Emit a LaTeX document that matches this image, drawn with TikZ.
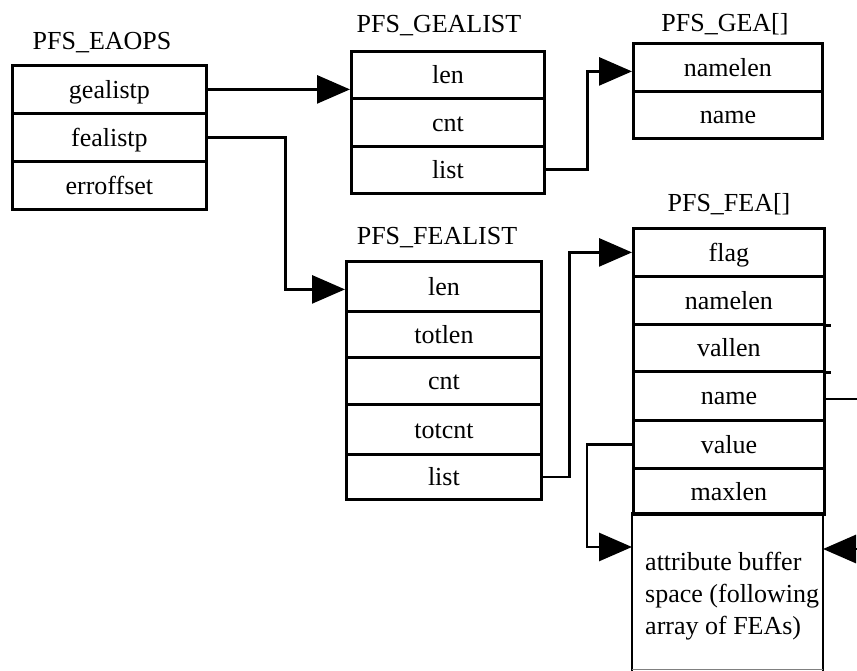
\documentclass[tikz,border=0pt]{standalone}
\usepackage{fontspec}
\setmainfont{Liberation Serif}
\usetikzlibrary{arrows.meta}

\newcommand{\fieldfont}{\fontsize{26}{32}\selectfont}

\tikzset{
  field/.style={draw, line width=2.8pt, rectangle, inner sep=0pt,
    anchor=north west, text height=18pt, text depth=0pt, font=\fieldfont},
  title/.style={anchor=base, inner sep=0pt, font=\fieldfont},
  edge/.style={line width=2.8pt},
  conn/.style={edge, -{Triangle[length=33pt,width=28pt]}},
}

\begin{document}
\begin{tikzpicture}[x=1pt, y=-1pt]
  \useasboundingbox (0,0) rectangle (857,671);

  % PFS_EAOPS
  \node[title] (eaT) at (102,50) {PFS\_EAOPS};
  \node[field, minimum width=194pt, minimum height=48pt] (ea1) at (11,64)  {gealistp};
  \node[field, minimum width=194pt, minimum height=48pt] (ea2) at (11,112) {fealistp};
  \node[field, minimum width=194pt, minimum height=48pt] (ea3) at (11,160) {erroffset};

  % PFS_GEALIST
  \node[title] (glT) at (439,33) {PFS\_GEALIST};
  \node[field, minimum width=193pt, minimum height=47pt] (gl1) at (350,50)  {len};
  \node[field, minimum width=193pt, minimum height=48pt] (gl2) at (350,97)  {cnt};
  \node[field, minimum width=193pt, minimum height=47pt] (gl3) at (350,145) {list};

  % PFS_GEA[]
  \node[title] (geaT) at (725,32) {PFS\_GEA[]};
  \node[field, minimum width=189pt, minimum height=48pt] (gea1) at (632,42) {namelen};
  \node[field, minimum width=189pt, minimum height=47pt] (gea2) at (632,90) {name};

  % PFS_FEALIST
  \node[title] (flT) at (437,245) {PFS\_FEALIST};
  \node[field, minimum width=195pt, minimum height=50pt] (fl1) at (345,260) {len};
  \node[field, minimum width=195pt, minimum height=46pt] (fl2) at (345,310) {totlen};
  \node[field, minimum width=195pt, minimum height=47pt] (fl3) at (345,356) {cnt};
  \node[field, minimum width=195pt, minimum height=50pt] (fl4) at (345,403) {totcnt};
  \node[field, minimum width=195pt, minimum height=45pt] (fl5) at (345,453) {list};

  % PFS_FEA[]
  \node[title] (feaT) at (729,212) {PFS\_FEA[]};
  \node[field, minimum width=191pt, minimum height=48pt] (fea1) at (632,227) {flag};
  \node[field, minimum width=191pt, minimum height=48pt] (fea2) at (632,275) {namelen};
  \node[field, minimum width=191pt, minimum height=47pt] (fea3) at (632,323) {vallen};
  \node[field, minimum width=191pt, minimum height=49pt] (fea4) at (632,370) {name};
  \node[field, minimum width=191pt, minimum height=48pt] (fea5) at (632,419) {value};
  \node[field, minimum width=191pt, minimum height=46pt] (fea6) at (632,467) {maxlen};
  % attribute buffer: open at the bottom edge
  \node[field, draw=none, outer sep=0pt, minimum width=191pt, minimum height=158pt] (buf) at (632,513) {};
  \draw[edge] (buf.south west) -- (buf.north west) -- (buf.north east) -- (buf.south east);
  \draw[gray, line width=0.8pt] ([yshift=2pt]buf.south west) -- ([yshift=2pt]buf.south east);
  \node[anchor=north west, align=left, inner sep=0pt, font=\fieldfont] (buftext) at (645,552)
    {attribute buffer\\space (following\\array of FEAs)};
  % divider lines running past the right edge
  \draw[edge] (fea2.south east) -- ++(5,0);
  \draw[edge] (fea3.south east) -- ++(5,0);

  % connectors
  \coordinate (nameout) at (857,0);
  \coordinate (bufsrc) at (862,549);

  \draw[conn] (ea1.east) -- (ea1.east -| gl1.west);
  \draw[conn] (ea2.east) -- ++(78,0) |- ([yshift=-3pt]fl1.west);
  \draw[conn] (gl3.east) -- ++(42,0) |- ([yshift=-4pt]gea1.west);
  \draw[conn] (fl5.east) -- ++(27,0) |- (fea1.west);
  \draw[conn] (fea5.west) -- ++(-45,0) |- ([yshift=-34pt]buf.north west);
  \draw[edge] ([yshift=-3pt]fea4.east) -- ([yshift=-3pt]fea4.east -| nameout);
  \draw[conn] (bufsrc) -- ([yshift=-36pt]buf.north east);
\end{tikzpicture}
\end{document}
